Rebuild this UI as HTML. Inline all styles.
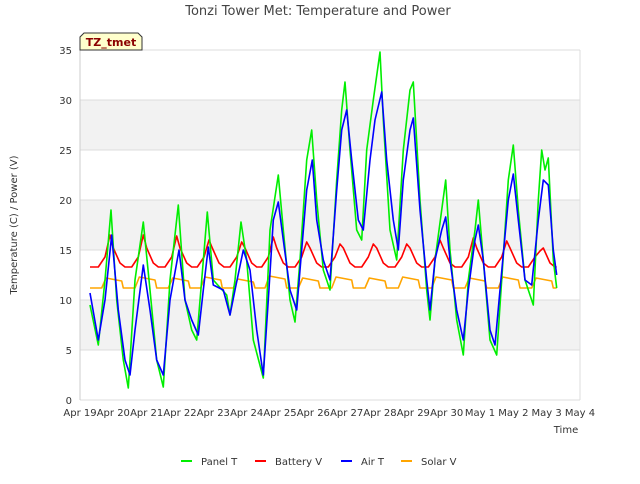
<!DOCTYPE html>
<html><head><meta charset="utf-8"><style>
body{margin:0;background:#fff;font-family:"DejaVu Sans","Liberation Sans",sans-serif;}
svg text{font-family:"DejaVu Sans","Liberation Sans",sans-serif;}
</style></head><body>
<svg id="c" width="640" height="480" xmlns="http://www.w3.org/2000/svg">
<rect x="0" y="0" width="640" height="480" fill="#fff"/>
<g id="grid"></g>
<g id="series"></g>
<g id="axes"></g>
<text x="318" y="15" text-anchor="middle" font-size="13" fill="#444">Tonzi Tower Met: Temperature and Power</text>
<text x="566" y="433" text-anchor="middle" font-size="10" fill="#333">Time</text>
<text transform="translate(17,225) rotate(-90)" text-anchor="middle" font-size="10" fill="#333">Temperature (C) / Power (V)</text>
<g>
<path d="M80,50 L80,37 L84,33 L138,33 L142,37 L142,50 Z" fill="#ffffcc" stroke="#333" stroke-width="1"/>
<text x="111" y="46" text-anchor="middle" font-size="11" font-weight="bold" fill="#8b0000">TZ_tmet</text>
</g>
<g id="legend"></g>
</svg>
<script>
const xTickLabels=["Apr 19","Apr 20","Apr 21","Apr 22","Apr 23","Apr 24","Apr 25","Apr 26","Apr 27","Apr 28","Apr 29","Apr 30","May 1","May 2","May 3","May 4"];
const yTicks=[0,5,10,15,20,25,30,35];
const panelT=[[0.3,9.5],[0.55,5.5],[0.75,12],[0.93,19],[1.1,10],[1.3,4],[1.45,1.2],[1.65,12],[1.9,17.8],[2.1,11],[2.3,4],[2.5,1.3],[2.7,12],[2.95,19.5],[3.15,10],[3.35,7],[3.5,6],[3.65,12],[3.82,18.8],[4.0,12],[4.4,10.5],[4.5,8.5],[4.65,12],[4.83,17.8],[5.0,14],[5.2,6],[5.5,2.2],[5.7,17],[5.95,22.5],[6.1,17],[6.3,10],[6.45,7.8],[6.6,14],[6.8,24],[6.95,27],[7.1,20],[7.3,13],[7.5,11],[7.7,22],[7.85,29],[7.95,31.8],[8.1,25],[8.3,17],[8.45,16],[8.6,25],[8.8,30],[9.0,34.8],[9.1,28],[9.3,17],[9.5,14],[9.7,25],[9.9,31],[10.0,31.8],[10.2,20],[10.4,11],[10.5,8],[10.65,14],[10.85,19],[10.97,22],[11.1,15],[11.3,8],[11.5,4.5],[11.65,12],[11.85,17],[11.95,20],[12.1,14],[12.3,6],[12.5,4.5],[12.65,12],[12.85,22],[13.0,25.5],[13.15,19],[13.35,12],[13.6,9.5],[13.75,20],[13.85,25],[13.95,23],[14.05,24.2],[14.2,14],[14.3,11.2]];
const airT=[[0.3,10.7],[0.55,6],[0.75,10],[0.95,16.5],[1.15,9],[1.35,4],[1.5,2.5],[1.65,7],[1.9,13.5],[2.1,9],[2.3,4],[2.5,2.5],[2.7,10],[2.97,15],[3.15,10],[3.35,8],[3.55,6.5],[3.7,11],[3.85,15.3],[4.0,11.5],[4.3,11],[4.5,8.5],[4.65,11],[4.9,15],[5.1,13],[5.3,7],[5.5,2.5],[5.65,10],[5.8,18],[5.95,19.8],[6.1,16],[6.3,11],[6.5,9],[6.6,13],[6.8,21],[6.97,24],[7.1,18],[7.3,14],[7.5,12],[7.7,21],[7.85,27],[8.0,29],[8.15,24],[8.35,18],[8.5,17],[8.7,24],[8.85,28],[9.05,30.8],[9.2,24],[9.4,18],[9.55,15],[9.7,22],[9.9,27],[10.0,28.2],[10.2,19],[10.4,12],[10.5,9],[10.65,14],[10.85,17],[10.97,18.3],[11.1,14],[11.3,9],[11.5,6],[11.65,11],[11.85,16],[11.95,17.5],[12.1,14],[12.3,7],[12.45,5.5],[12.6,11],[12.85,20],[13.0,22.6],[13.15,18],[13.35,12],[13.55,11.5],[13.75,18],[13.9,22],[14.05,21.5],[14.2,15],[14.3,12.5]];
const battDays=[0.9,1.9,2.9,3.87,4.85,5.8,6.8,7.8,8.8,9.8,10.8,11.8,12.8,13.8];
const battPeaks=[16.5,16.5,16.4,16.0,15.8,16.3,15.8,15.6,15.6,15.6,16.0,16.2,15.9,14.9];
const battBase=13.3;
const solarDays=[0.9,1.9,2.9,3.87,4.85,5.8,6.8,7.8,8.8,9.8,10.8,11.8,12.8,13.8];
const solarPeaks=[12.2,12.3,12.2,12.3,12.1,12.4,12.2,12.3,12.2,12.3,12.3,12.2,12.3,12.2];
const solarBase=11.2;
const startDay=0.3,endDay=14.3;

const X0=80,X1=580,Y0=400,Y1=50;
const xs=d=>X0+d*(X1-X0)/15;
const ys=v=>Y0-(v/35)*(Y0-Y1);
const NS="http://www.w3.org/2000/svg";
function mk(tag,attrs,parent){const e=document.createElementNS(NS,tag);for(const k in attrs)e.setAttribute(k,attrs[k]);parent.appendChild(e);return e;}
const grid=document.getElementById('grid'),axes=document.getElementById('axes'),ser=document.getElementById('series'),leg=document.getElementById('legend');
for(let i=0;i<yTicks.length-1;i++){
  if(i%2===1){const r=mk('rect',{x:X0,y:ys(yTicks[i+1]),width:X1-X0,height:ys(yTicks[i])-ys(yTicks[i+1]),fill:'#f2f2f2'},grid);
  
  }
}
yTicks.forEach(v=>{
  const l=mk('line',{x1:X0,x2:X1,y1:ys(v),y2:ys(v),stroke:'#dcdcdc','stroke-width':1},grid);
  
  
  const t=mk('text',{x:X0-8,y:ys(v)+4,'text-anchor':'end','font-size':10,fill:'#333'},axes);
  t.textContent=v;
  
  
});
mk('line',{x1:X0,x2:X0,y1:Y1,y2:Y0,stroke:'#ccc'},grid);
mk('line',{x1:X1,x2:X1,y1:Y1,y2:Y0,stroke:'#ddd'},grid);
xTickLabels.forEach((s,i)=>{
  const t=mk('text',{x:xs(i),y:Y0+16,'text-anchor':'middle','font-size':10,fill:'#333'},axes);
  t.textContent=s;
  
  
});
function line(pts,color,name){
  const p=mk('polyline',{points:pts.map(q=>xs(q[0]).toFixed(1)+','+ys(q[1]).toFixed(1)).join(' '),fill:'none',stroke:color,'stroke-width':1.6,'stroke-linejoin':'round'},ser);
  
  
}
function battPts(){const pts=[[startDay,battBase]];battDays.forEach((d,i)=>{pts.push([Math.max(startDay,d-0.35),battBase],[d-0.15,14.3],[d,battPeaks[i]],[d+0.1,15.2],[d+0.3,13.7],[Math.min(endDay,d+0.45),battBase]);});pts.push([endDay,battBase]);return pts;}
function solarPts(){const pts=[[startDay,solarBase]];solarDays.forEach((d,i)=>{pts.push([d-0.25,solarBase],[d-0.12,solarPeaks[i]],[d+0.35,solarPeaks[i]-0.3],[Math.min(endDay,d+0.4),solarBase]);});pts.push([endDay,solarBase]);return pts;}
line(solarPts(),'#ffa500','solar-v-line');
line(battPts(),'#ff0000','battery-v-line');
line(panelT,'#00ee00','panel-t-line');
line(airT,'#0000ff','air-t-line');
const legItems=[["Panel T","#00ee00",181],["Battery V","#ff0000",255],["Air T","#0000ff",341],["Solar V","#ffa500",401]];
legItems.forEach(it=>{
  const g=mk('g',{},leg);
  
  
  mk('line',{x1:it[2],x2:it[2]+11,y1:461,y2:461,stroke:it[1],'stroke-width':2},g);
  const t=mk('text',{x:it[2]+20,y:465,'font-size':10,fill:'#333'},g);
  t.textContent=it[0];
});
</script>
</body></html>
